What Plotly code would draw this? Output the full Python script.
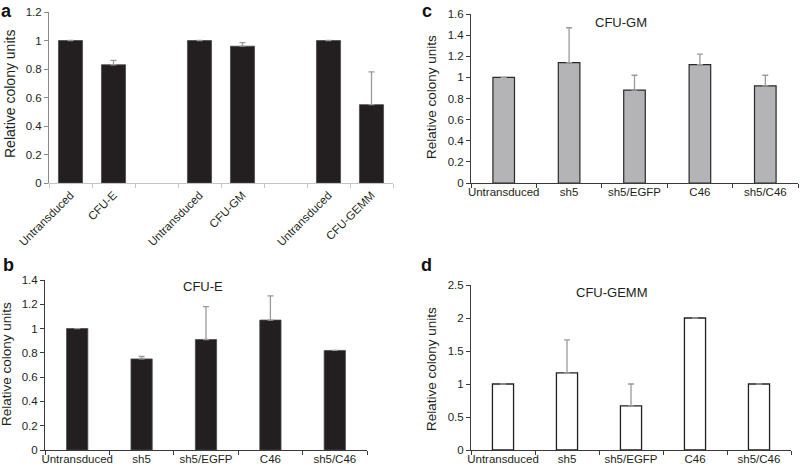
import plotly.graph_objects as go

# ---------- data ----------
a_labels = ["Untransduced", "CFU-E", "", "Untransduced", "CFU-GM", "", "Untransduced", "CFU-GEMM"]
a_values = [1.0, 0.83, None, 1.0, 0.96, None, 1.0, 0.55]
a_errors = [0.0, 0.03, None, 0.0, 0.025, None, 0.0, 0.23]

groups = ["Untransduced", "sh5", "sh5/EGFP", "C46", "sh5/C46"]
b_values = [1.0, 0.75, 0.91, 1.07, 0.82]
b_errors = [0.0, 0.02, 0.27, 0.20, 0.0]
c_values = [1.0, 1.14, 0.88, 1.12, 0.92]
c_errors = [0.0, 0.33, 0.14, 0.10, 0.10]
d_values = [1.0, 1.17, 0.67, 2.0, 1.0]
d_errors = [0.0, 0.50, 0.33, 0.0, 0.0]

W, H = 800, 467
FONT = "Liberation Sans, Arial, sans-serif"
TXT = "#231f20"

def px(x):
    return x / W

def py(y):
    return 1 - y / H

# unique keys for the category axis in panel a (zero-width spaces keep labels identical)
a_keys = [lab + "\u200b" * i for i, lab in enumerate(a_labels)]
a_keys_bars = [k for k, v in zip(a_keys, a_values) if v is not None]
a_vals_bars = [v for v in a_values if v is not None]
a_errs_bars = [e for e, v in zip(a_errors, a_values) if v is not None]

fig = go.Figure()

err_style = dict(type="data", symmetric=False, color="#9a9a9a", thickness=1.3, width=3)

fig.add_trace(go.Bar(
    x=a_keys_bars, y=a_vals_bars, xaxis="x", yaxis="y", width=0.56,
    marker=dict(color="#231f20", line=dict(color="#4a4a4a", width=0.8)),
    error_y=dict(array=a_errs_bars, arrayminus=[0] * len(a_errs_bars), **err_style),
))
fig.add_trace(go.Bar(
    x=groups, y=b_values, xaxis="x2", yaxis="y2", width=0.33,
    marker=dict(color="#231f20", line=dict(color="#4a4a4a", width=0.8)),
    error_y=dict(array=b_errors, arrayminus=[0] * 5, **err_style),
))
fig.add_trace(go.Bar(
    x=groups, y=c_values, xaxis="x3", yaxis="y3", width=0.33,
    marker=dict(color="#b4b4b6", line=dict(color="#2a2a2a", width=1.2)),
    error_y=dict(array=c_errors, arrayminus=[0] * 5, **err_style),
))
fig.add_trace(go.Bar(
    x=groups, y=d_values, xaxis="x4", yaxis="y4", width=0.33,
    marker=dict(color="#ffffff", line=dict(color="#231f20", width=1.3)),
    error_y=dict(array=d_errors, arrayminus=[0] * 5, **err_style),
))

tickfont = dict(family=FONT, size=11.5, color=TXT)

def xax(domain, anchor, cats, linecolor, angle=0, standoff=0):
    return dict(domain=domain, anchor=anchor, type="category",
                categoryorder="array", categoryarray=cats,
                range=[-0.5, len(cats) - 0.5],
                showline=True, linecolor=linecolor, linewidth=1,
                ticks="outside", ticklen=4, tickcolor=linecolor, tickson="boundaries",
                tickangle=angle, tickfont=tickfont, showgrid=False, zeroline=False,
                ticklabelstandoff=standoff,
                automargin=False, fixedrange=True)

def yax(domain, anchor, rng, dtick, linecolor):
    return dict(domain=domain, anchor=anchor, range=rng, dtick=dtick, tick0=0,
                showline=True, linecolor=linecolor, linewidth=1,
                ticks="outside", ticklen=4, tickcolor=linecolor,
                tickfont=tickfont, showgrid=False, zeroline=False,
                automargin=False, fixedrange=True)

dark = "#3a3a3a"
fig.update_layout(
    width=W, height=H, margin=dict(l=0, r=0, t=0, b=0),
    paper_bgcolor="white", plot_bgcolor="white", showlegend=False,
    bargap=0.4,
    xaxis=xax([px(49), px(393)], "y", a_keys, "#c4c4c4", angle=-45),
    yaxis=yax([py(183), py(12)], "x", [0, 1.2], 0.2, "#8a8a8a"),
    xaxis2=xax([px(45), px(367)], "y2", groups, dark, standoff=-2),
    yaxis2=yax([py(450), py(280)], "x2", [0, 1.4], 0.2, dark),
    xaxis3=xax([px(471), px(798)], "y3", groups, dark, standoff=-2),
    yaxis3=yax([py(183), py(14)], "x3", [0, 1.6], 0.2, dark),
    xaxis4=xax([px(471), px(791)], "y4", groups, dark, standoff=-2),
    yaxis4=yax([py(450), py(285)], "x4", [0, 2.5], 0.5, dark),
)
fig.update_xaxes(selector=dict(anchor="y"), tickvals=a_keys, ticktext=a_labels)

ann = []
# panel letters
for letter, x, y, ya in [("a", 6, 0, "top"), ("b", 8, 265, "middle"),
                         ("c", 427, 0, "top"), ("d", 427, 265, "middle")]:
    ann.append(dict(text="<b>" + letter + "</b>", x=px(x), y=py(y), xref="paper", yref="paper",
                    showarrow=False, font=dict(family=FONT, size=18, color="#111"),
                    xanchor="center", yanchor=ya, borderpad=0))
# y titles
for x, y, s in [(10, 94, 14), (6, 364, 13.5), (431, 97, 13.5), (431, 369, 13.5)]:
    ann.append(dict(text="Relative colony units", x=px(x), y=py(y), xref="paper", yref="paper",
                    textangle=-90, showarrow=False, font=dict(family=FONT, size=s, color=TXT),
                    xanchor="center", yanchor="middle"))
# panel titles
for t, x, y in [("CFU-E", 203, 286), ("CFU-GM", 621, 22), ("CFU-GEMM", 612, 292)]:
    ann.append(dict(text=t, x=px(x), y=py(y), xref="paper", yref="paper",
                    showarrow=False, font=dict(family=FONT, size=13, color=TXT),
                    xanchor="center", yanchor="middle"))
fig.update_layout(annotations=ann)

fig.write_html("out.html", config={"displayModeBar": False},
               post_script="document.body.style.margin='0';document.body.style.overflow='hidden';")
